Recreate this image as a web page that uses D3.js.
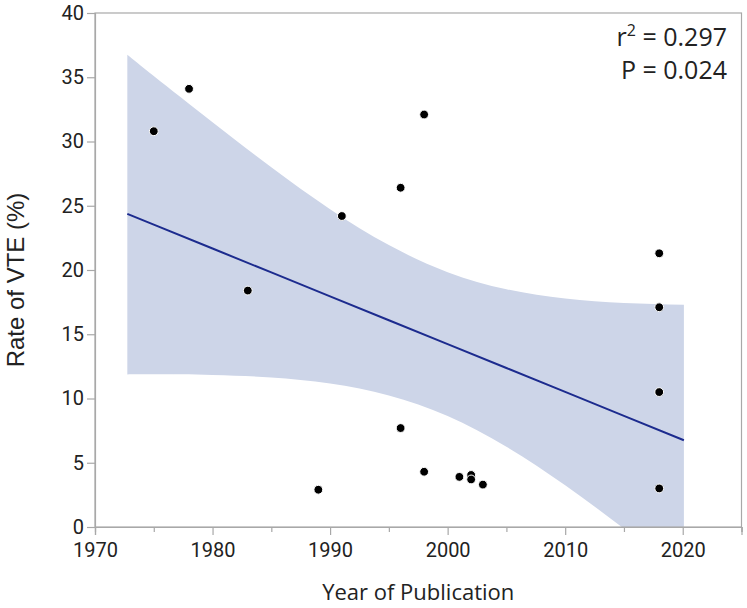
<!DOCTYPE html>
<html>
<head>
<meta charset="utf-8">
<script src="https://cdn.jsdelivr.net/npm/d3@7"></script>
<style>
  html, body { margin: 0; padding: 0; background: #fff; }
  svg { display: block; font-family: "Open Sans", "Noto Sans", sans-serif; }
</style>
</head>
<body>
<svg id="chart" width="747" height="608"></svg>
<script>
// ---- Data ----
const years = [1975, 1978, 1983, 1989, 1991, 1996, 1996, 1998, 1998, 2001, 2002, 2002, 2003, 2018, 2018, 2018, 2018];
const rates = [30.8, 34.1, 18.4, 2.9, 24.2, 26.4, 7.7, 32.1, 4.3, 3.9, 4.05, 3.7, 3.3, 21.3, 17.1, 10.5, 3.0];

// Fitted regression line and 95% confidence band, read at these years
const fitYears  = [1972.75, 1975, 1980, 1985, 1990, 1995, 2000, 2005, 2010, 2015, 2020.1];
const fitLine   = [24.37, 23.53, 21.67, 19.81, 17.95, 16.09, 14.23, 12.37, 10.51, 8.65, 6.75];
const bandUpper = [36.75, 35.1, 31.5, 27.99, 24.73, 21.94, 19.83, 18.5, 17.78, 17.43, 17.29];
const bandLower = [11.87, 11.88, 11.83, 11.63, 11.17, 10.24, 8.63, 6.24, 3.24, -0.13, -3.79];

const xMajorTicks = [1970, 1980, 1990, 2000, 2010, 2020];
const xMinorTicks = [1975, 1985, 1995, 2005, 2015, 2025];
const yTicks = [0, 5, 10, 15, 20, 25, 30, 35, 40];
const statsLines = ["r", "P = 0.024"];

// ---- Layout ----
const svg = d3.select("#chart");
const mLeft = 95, mRight = 741.5, mTop = 13, mBottom = 527;

const x = d3.scaleLinear().domain([1970, 2025]).range([mLeft, mRight]);
const y = d3.scaleLinear().domain([0, 40]).range([mBottom, mTop]);

const axisColor = "#a8a8a8";
const textColor = "#222";
const tickFont = 'Roboto, "Open Sans", sans-serif';

svg.append("defs").append("clipPath").attr("id", "plotClip")
  .append("rect").attr("x", mLeft).attr("y", mTop).attr("width", mRight - mLeft).attr("height", mBottom - mTop);

const plot = svg.append("g").attr("clip-path", "url(#plotClip)");

// Confidence band
const bandData = fitYears.map((yr, i) => ({ yr, lo: bandLower[i], hi: bandUpper[i] }));
plot.append("path")
  .datum(bandData)
  .attr("fill", "#cdd5e8")
  .attr("d", d3.area().curve(d3.curveNatural)
    .x(d => x(d.yr)).y0(d => y(d.lo)).y1(d => y(d.hi)));

// Fit line
const lineData = fitYears.map((yr, i) => ({ yr, v: fitLine[i] }));
plot.append("path")
  .datum(lineData)
  .attr("fill", "none")
  .attr("stroke", "#1c2b8e")
  .attr("stroke-width", 2)
  .attr("d", d3.line().x(d => x(d.yr)).y(d => y(d.v)));

// Points
plot.selectAll("circle.pt")
  .data(years.map((yr, i) => ({ yr, v: rates[i] })))
  .join("circle")
  .attr("class", "pt")
  .attr("cx", d => x(d.yr))
  .attr("cy", d => y(d.v))
  .attr("r", 4.4)
  .attr("fill", "#000")
  .attr("stroke", "#fff")
  .attr("stroke-width", 1);

// Frame
svg.append("rect")
  .attr("x", mLeft).attr("y", mTop)
  .attr("width", mRight - mLeft).attr("height", mBottom - mTop)
  .attr("fill", "none").attr("stroke", axisColor).attr("stroke-width", 1.2);

// X axis
const xAxis = svg.append("g").attr("transform", `translate(0,${mBottom})`)
  .call(d3.axisBottom(x).tickValues(xMajorTicks).tickFormat(d3.format("d")).tickSize(8).tickPadding(8));
const xMinor = svg.append("g").attr("transform", `translate(0,${mBottom})`)
  .call(d3.axisBottom(x).tickValues(xMinorTicks).tickFormat("").tickSize(5));

// Y axis
const yAxis = svg.append("g").attr("transform", `translate(${mLeft},0)`)
  .call(d3.axisLeft(y).tickValues(yTicks).tickSize(8).tickPadding(3));

[xAxis, xMinor, yAxis].forEach(g => {
  g.select(".domain").attr("stroke", axisColor).attr("stroke-width", 1.2);
  g.selectAll(".tick line").attr("stroke", axisColor).attr("stroke-width", 1.2);
  g.selectAll(".tick text").attr("fill", textColor).style("font-size", "20px")
    .style("font-family", tickFont);
});
yAxis.selectAll(".tick text").attr("dy", "0.32em");

// Axis titles
svg.append("text")
  .attr("x", (mLeft + mRight) / 2).attr("y", 600)
  .attr("text-anchor", "middle")
  .attr("fill", textColor)
  .style("font-size", "22px")
  .text("Year of Publication");

svg.append("text")
  .attr("transform", `translate(24,280) rotate(-90)`)
  .attr("text-anchor", "middle")
  .attr("fill", textColor)
  .style("font-family", '"Liberation Sans", Arial, sans-serif')
  .style("font-size", "24px")
  .text("Rate of VTE (%)");

// Stats annotation
const s1 = svg.append("text")
  .attr("x", 727).attr("y", 46)
  .attr("text-anchor", "end")
  .attr("fill", textColor)
  .style("font-size", "25px");
s1.append("tspan").text(statsLines[0]);
s1.append("tspan").attr("dy", -10).style("font-size", "16px").text("2");
s1.append("tspan").attr("dy", 10).text(" = 0.297");

svg.append("text")
  .attr("x", 727).attr("y", 79)
  .attr("text-anchor", "end")
  .attr("fill", textColor)
  .style("font-size", "25px")
  .text(statsLines[1]);
</script>
</body>
</html>
